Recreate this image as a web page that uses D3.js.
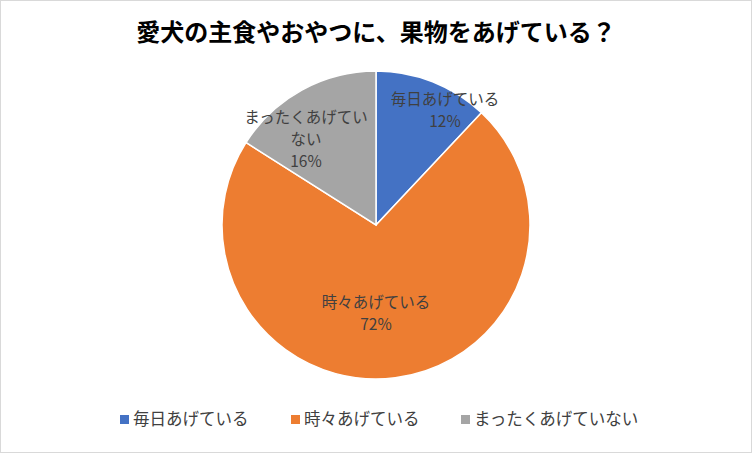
<!DOCTYPE html>
<html><head><meta charset="utf-8">
<script src="https://cdn.jsdelivr.net/npm/d3@7/dist/d3.min.js"></script>
<style>body{margin:0;background:#fff}svg{display:block}</style>
</head><body>
<script>
const categories=["毎日あげている","時々あげている","まったくあげていない"];
const values=[12,72,16];
const colors=["#4472C4","#ED7D31","#A5A5A5"];
const W=752,H=453,cx=376,cy=225,r=154;
const font="'Noto Sans CJK JP','Noto Sans',sans-serif";
const svg=d3.select("body").append("svg").attr("width",W).attr("height",H);
svg.append("rect").attr("x",0.5).attr("y",0.5).attr("width",W-1).attr("height",H-1).attr("fill","#fff").attr("stroke","#d9d9d9");
svg.append("text").attr("x",376).attr("y",41).attr("text-anchor","middle").attr("font-family",font).attr("font-weight","bold").attr("font-size",24).attr("fill","#000").text("愛犬の主食やおやつに、果物をあげている？");
const pie=d3.pie().sort(null).value(d=>d)(values);
const arc=d3.arc().innerRadius(0).outerRadius(r);
const g=svg.append("g").attr("transform",`translate(${cx},${cy})`);
g.selectAll("path").data(pie).join("path").attr("d",arc).attr("fill",(d,i)=>colors[i]).attr("stroke","#fff").attr("stroke-width",1.5);
const labels=[
 {lines:["毎日あげている","12%"],x:445,y:105},
 {lines:["時々あげている","72%"],x:376,y:308},
 {lines:["まったくあげてい","ない","16%"],x:306,y:123}
];
labels.forEach(l=>{
 const t=svg.append("text").attr("text-anchor","middle").attr("font-family",font).attr("font-size",15.5).attr("fill","#404040");
 l.lines.forEach((s,i)=>t.append("tspan").attr("x",l.x).attr("y",l.y+i*22).text(s));
});
const lx=[120,291,461];
categories.forEach((c,i)=>{
 svg.append("rect").attr("x",lx[i]).attr("y",415).attr("width",9).attr("height",9).attr("fill",colors[i]);
 svg.append("text").attr("x",lx[i]+13).attr("y",425).attr("font-family",font).attr("font-size",16.5).attr("fill","#404040").text(c);
});
</script>
</body></html>
